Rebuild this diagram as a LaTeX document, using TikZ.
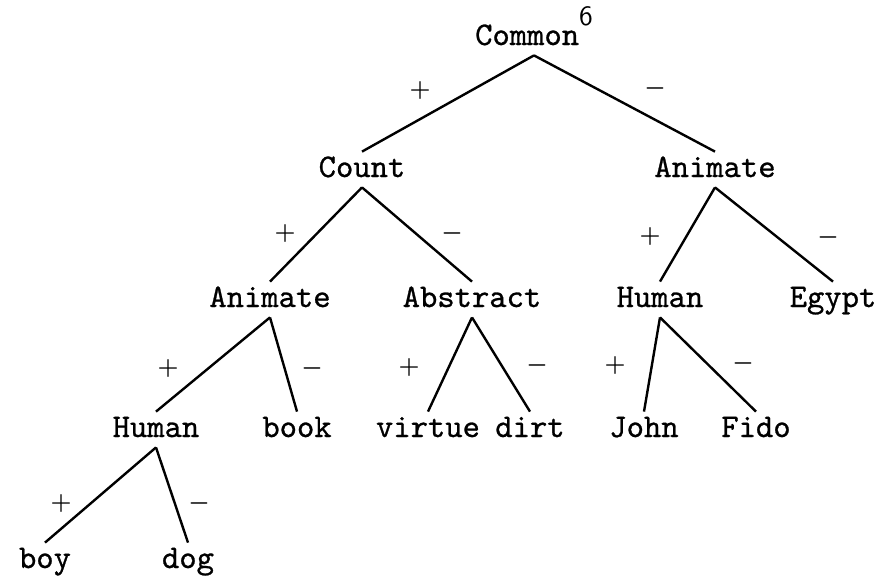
\documentclass[tikz,border=0pt]{standalone}
\usepackage{fontspec}
\setmonofont[Extension = .otf, FakeBold = 0.8]{lmmono10-regular}
\begin{document}
\begin{tikzpicture}[x = 0.5pt, y = -0.5pt,
        word/.style = {font = \ttfamily\fontsize{16.5}{16.5}\selectfont, inner sep = 0, anchor = base, text height = 12.5pt, text depth = 5pt},
        sign/.style = {font = \fontsize{13}{13}\selectfont\boldmath, inner sep = 0},
        branch/.style = {line width = 1.2pt}]
            \useasboundingbox (0, 0) rectangle (890, 579);
            % words
            \node [word] (common) at (534, 45) {Common\raisebox{10pt}{\fontsize{14}{14}\selectfont\sffamily 6}};
            \node [word] (count) at (362, 177) {Count};
            \node [word] (animR) at (715, 177) {Animate};
            \node [word] (animL) at (270, 307) {Animate};
            \node [word] (abstract) at (472, 307) {Abstract};
            \node [word] (humanR) at (660, 307) {Human};
            \node [word] (egypt) at (833, 307) {Egypt};
            \node [word] (humanL) at (156, 437) {Human};
            \node [word] (book) at (297, 437) {book};
            \node [word] (virtue) at (428, 437) {virtue};
            \node [word] (dirt) at (530, 437) {dirt};
            \node [word] (john) at (644, 437) {John};
            \node [word] (fido) at (756, 437) {Fido};
            \node [word] (boy) at (45, 568) {boy};
            \node [word] (dog) at (188, 568) {dog};
            % branches
            \draw [branch] (common.south) -- (count.north);
            \draw [branch] (common.south) -- (animR.north);
            \draw [branch] (count.south) -- (animL.north);
            \draw [branch] (count.south) -- (abstract.north);
            \draw [branch] (animR.south) -- (humanR.north);
            \draw [branch] (animR.south) -- (egypt.north);
            \draw [branch] (animL.south) -- (humanL.north);
            \draw [branch] (animL.south) -- (book.north);
            \draw [branch] (abstract.south) -- (virtue.north);
            \draw [branch] (abstract.south) -- (dirt.north);
            \draw [branch] (humanR.south) -- (john.north);
            \draw [branch] (humanR.south) -- (fido.north);
            \draw [branch] (humanL.south) -- (boy.north);
            \draw [branch] (humanL.south) -- (dog.north);
            % signs
            \node [sign] (p1) at (420, 90) {$+$};
            \node [sign] (m1) at (655, 88) {$-$};
            \node [sign] (p2) at (285, 233) {$+$};
            \node [sign] (m2) at (452, 233) {$-$};
            \node [sign] (p3) at (650, 236) {$+$};
            \node [sign] (m3) at (828, 237) {$-$};
            \node [sign] (p4) at (168, 368) {$+$};
            \node [sign] (m4) at (312, 368) {$-$};
            \node [sign] (p5) at (409, 367) {$+$};
            \node [sign] (m5) at (537, 365) {$-$};
            \node [sign] (p6) at (615, 365) {$+$};
            \node [sign] (m6) at (743, 363) {$-$};
            \node [sign] (p7) at (61, 503) {$+$};
            \node [sign] (m7) at (199, 503) {$-$};
        \end{tikzpicture}
\end{document}
